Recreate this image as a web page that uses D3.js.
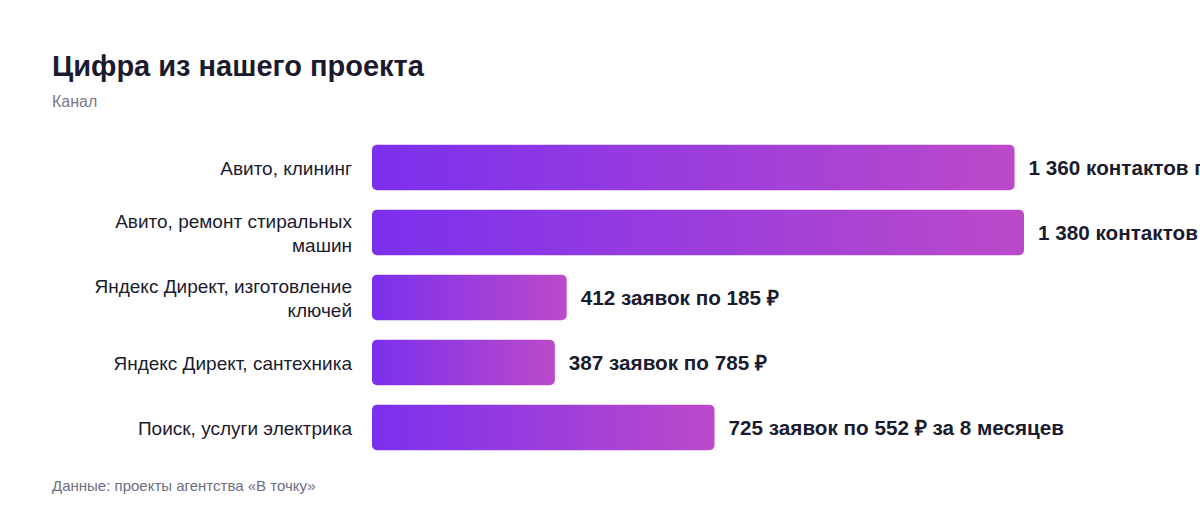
<!DOCTYPE html>
<html>
<head>
<meta charset="utf-8">
<script src="https://cdn.jsdelivr.net/npm/d3@7"></script>
<style>
    body { margin: 0; background: #fff; }
    svg { display: block; font-family: "Liberation Sans", Arial, sans-serif; }
</style>
</head>
<body>
<div id="draw"></div>
<script>
// данные
var channels = [
    ["Авито, клининг"],
    ["Авито, ремонт стиральных", "машин"],
    ["Яндекс Директ, изготовление", "ключей"],
    ["Яндекс Директ, сантехника"],
    ["Поиск, услуги электрика"]
];
var values = [1360, 1380, 412, 387, 725];
var valueLabels = [
    "1 360 контактов по",
    "1 380 контактов по",
    "412 заявок по 185 ₽",
    "387 заявок по 785 ₽",
    "725 заявок по 552 ₽ за 8 месяцев"
];

var w = 1200, h = 520;
var left = 372, top_ = 135, step = 65;

var svg = d3.select("#draw")
    .append("svg")
    .attr("width", w)
    .attr("height", h);

// градиент для столбцов
var grad = svg.append("defs")
    .append("linearGradient")
    .attr("id", "barGrad")
    .attr("x1", "0%").attr("x2", "100%")
    .attr("y1", "0%").attr("y2", "0%");
grad.append("stop").attr("offset", "0%").attr("stop-color", "#7b30ee");
grad.append("stop").attr("offset", "100%").attr("stop-color", "#bb4ac9");

// заголовки
svg.append("text")
    .attr("x", 52).attr("y", 76)
    .attr("font-size", "29px")
    .attr("font-weight", "bold")
    .attr("fill", "#1b1b2f")
    .text("Цифра из нашего проекта");
svg.append("text")
    .attr("x", 52).attr("y", 107)
    .attr("font-size", "16px")
    .attr("fill", "#7a7a8c")
    .text("Канал");

// шкалы
var x = d3.scaleLinear()
    .domain([0, 1380])
    .range([0, 652]);
var y = d3.scaleBand()
    .domain(d3.range(values.length))
    .range([top_, top_ + step * values.length])
    .paddingInner(0.3)
    .paddingOuter(0.15);

var rows = svg.selectAll("g.row")
    .data(values)
    .enter()
    .append("g")
    .attr("class", "row")
    .attr("transform", function(d, i) {
        return "translate(0," + y(i) + ")";
    });

rows.append("rect")
    .attr("x", left)
    .attr("y", 0)
    .attr("width", function(d) { return x(d); })
    .attr("height", y.bandwidth())
    .attr("rx", 5)
    .attr("fill", "url(#barGrad)");

// подписи каналов
rows.append("text")
    .attr("text-anchor", "end")
    .attr("font-size", "19px")
    .attr("fill", "#1b1b2f")
    .each(function(d, i) {
        var lines = channels[i];
        var t = d3.select(this);
        var mid = y.bandwidth() / 2;
        var y0 = mid + 7 - (lines.length - 1) * 12;
        lines.forEach(function(s, k) {
            t.append("tspan")
                .attr("x", 352)
                .attr("y", y0 + k * 24)
                .text(s);
        });
    });

// значения
rows.append("text")
    .attr("x", function(d) { return left + x(d) + 14; })
    .attr("y", y.bandwidth() / 2 + 7)
    .attr("font-size", "20.7px")
    .attr("font-weight", "bold")
    .attr("fill", "#1b1b2f")
    .text(function(d, i) { return valueLabels[i]; });

// источник
svg.append("text")
    .attr("x", 52).attr("y", 491)
    .attr("font-size", "15px")
    .attr("fill", "#6e6e82")
    .text("Данные: проекты агентства «В точку»");
</script>
</body>
</html>
